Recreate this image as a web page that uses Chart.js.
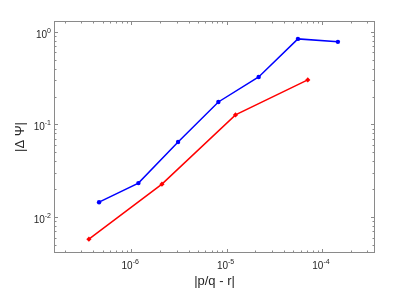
<!DOCTYPE html>
<html>
<head>
<meta charset="utf-8">
<script src="https://cdn.jsdelivr.net/npm/chart.js@4/dist/chart.umd.min.js"></script>
<style>
    html, body { margin: 0; padding: 0; background: #fff; }
    canvas { display: block; }
</style>
</head>
<body>
<canvas id="myChart" width="415" height="289"></canvas>
<script>
// values
const blueX = [4.6e-7, 1.19e-6, 3.1e-6, 8.2e-6, 2.17e-5, 5.6e-5, 1.47e-4];
const blueY = [0.0145, 0.0233, 0.0647, 0.175, 0.326, 0.84, 0.78];
const redX = [3.6e-7, 2.1e-6, 1.24e-5, 7.1e-5];
const redY = [0.00578, 0.0227, 0.127, 0.303];

// axis limits and decade tick exponents
const xLimits = [1.55e-7, 3.6e-4];
const yLimits = [0.0041, 1.31];
const xTickExp = [-6, -5, -4];
const yTickExp = [-2, -1, 0];

const xTitle = "|p/q - r|";
const yTitle = "|\u0394 \u03A8|";

function toPoints(xs, ys) {
    let pts = [];
    for (let i = 0; i < xs.length; i++) {
        pts.push({x: xs[i], y: ys[i]});
    }
    return pts;
}

// every 1..9 x 10^n value that falls inside the limits
function logTicks(limits) {
    let ticks = [];
    let lo = Math.floor(Math.log10(limits[0]));
    let hi = Math.ceil(Math.log10(limits[1]));
    for (let e = lo; e <= hi; e++) {
        for (let m = 1; m < 10; m++) {
            let v = m * Math.pow(10, e);
            if (v >= limits[0] && v <= limits[1]) {
                ticks.push({value: v, major: m === 1});
            }
        }
    }
    return ticks;
}

function drawPower(ctx, exp, x, y, align) {
    // "10" with a raised exponent, x is center or right edge
    ctx.font = "10px 'Liberation Sans', Arial, sans-serif";
    let baseW = ctx.measureText("10").width;
    ctx.font = "7px 'Liberation Sans', Arial, sans-serif";
    let expW = ctx.measureText(String(exp)).width;
    let left = align === "right" ? x - baseW - expW : x - (baseW + expW) / 2;
    ctx.textAlign = "left";
    ctx.textBaseline = "alphabetic";
    ctx.font = "10px 'Liberation Sans', Arial, sans-serif";
    ctx.fillText("10", left, y);
    ctx.font = "7px 'Liberation Sans', Arial, sans-serif";
    ctx.fillText(String(exp), left + baseW, y - 5);
}

const matlabAxes = {
    id: "matlabAxes",
    afterDraw(chart) {
        const ctx = chart.ctx;
        const area = chart.chartArea;
        const xs = chart.scales.x;
        const ys = chart.scales.y;
        ctx.save();

        // box
        ctx.strokeStyle = "#8a8a8a";
        ctx.lineWidth = 1;
        ctx.strokeRect(area.left + 0.5, area.top + 0.5, area.right - area.left - 1, area.bottom - area.top - 1);

        // inward ticks on all four sides
        ctx.beginPath();
        logTicks(xLimits).forEach((t) => {
            let px = Math.round(xs.getPixelForValue(t.value)) + 0.5;
            let len = t.major ? 4 : 2.5;
            ctx.moveTo(px, area.bottom);
            ctx.lineTo(px, area.bottom - len);
            ctx.moveTo(px, area.top);
            ctx.lineTo(px, area.top + len);
        });
        logTicks(yLimits).forEach((t) => {
            let py = Math.round(ys.getPixelForValue(t.value)) + 0.5;
            let len = t.major ? 4 : 2.5;
            ctx.moveTo(area.left, py);
            ctx.lineTo(area.left + len, py);
            ctx.moveTo(area.right, py);
            ctx.lineTo(area.right - len, py);
        });
        ctx.stroke();

        // tick labels
        ctx.fillStyle = "#262626";
        xTickExp.forEach((e) => {
            let px = xs.getPixelForValue(Math.pow(10, e));
            drawPower(ctx, e, px - 1, area.bottom + 16, "center");
        });
        yTickExp.forEach((e) => {
            let py = ys.getPixelForValue(Math.pow(10, e));
            drawPower(ctx, e, area.left - 3, py + 6, "right");
        });

        // axis titles
        ctx.font = "13px 'Liberation Sans', Arial, sans-serif";
        ctx.textAlign = "center";
        ctx.textBaseline = "middle";
        ctx.fillText(xTitle, (area.left + area.right) / 2, area.bottom + 28);
        ctx.translate(20, (area.top + area.bottom) / 2);
        ctx.rotate(-Math.PI / 2);
        ctx.fillText(yTitle, 0, 0);
        ctx.restore();
    }
};

new Chart("myChart", {
    type: "line",
    data: {
        datasets: [{
            data: toPoints(blueX, blueY),
            borderColor: "#0000ff",
            backgroundColor: "#0000ff",
            borderWidth: 1.5,
            pointStyle: "circle",
            pointRadius: 2.2,
            pointBorderWidth: 0,
            tension: 0
        }, {
            data: toPoints(redX, redY),
            borderColor: "#ff0000",
            backgroundColor: "#ff0000",
            borderWidth: 1.5,
            pointStyle: "rectRot",
            pointRadius: 2.6,
            pointBorderWidth: 0,
            tension: 0
        }]
    },
    options: {
        responsive: false,
        animation: false,
        layout: {
            padding: {left: 54, right: 40, top: 21, bottom: 36}
        },
        plugins: {
            legend: {display: false},
            tooltip: {enabled: false}
        },
        scales: {
            x: {type: "logarithmic", min: xLimits[0], max: xLimits[1], display: false},
            y: {type: "logarithmic", min: yLimits[0], max: yLimits[1], display: false}
        }
    },
    plugins: [matlabAxes]
});
</script>
</body>
</html>
